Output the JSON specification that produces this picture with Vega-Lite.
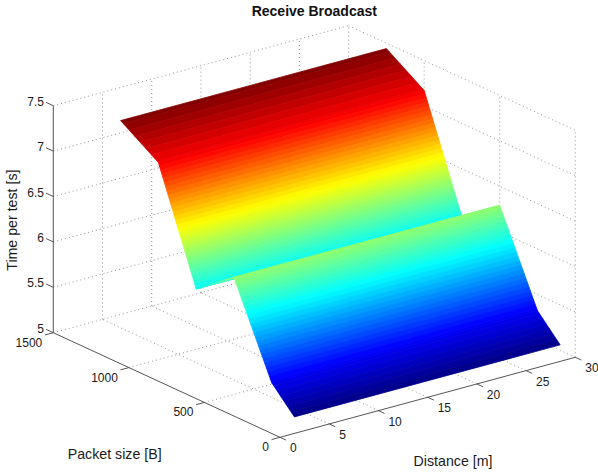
{"$schema":"https://vega.github.io/schema/vega-lite/v6.json","width":598,"height":472,"padding":0,"autosize":"none","background":"white","config":{"view":{"stroke":null}},
"datasets":{
"grid":[{"d":5,"p":0,"z":5,"d2":5,"p2":1500,"z2":5},{"d":10,"p":0,"z":5,"d2":10,"p2":1500,"z2":5},{"d":15,"p":0,"z":5,"d2":15,"p2":1500,"z2":5},{"d":20,"p":0,"z":5,"d2":20,"p2":1500,"z2":5},{"d":25,"p":0,"z":5,"d2":25,"p2":1500,"z2":5},{"d":30,"p":0,"z":5,"d2":30,"p2":1500,"z2":5},
{"d":0,"p":500,"z":5,"d2":30,"p2":500,"z2":5},{"d":0,"p":1000,"z":5,"d2":30,"p2":1000,"z2":5},{"d":0,"p":1500,"z":5,"d2":30,"p2":1500,"z2":5},
{"d":0,"p":1500,"z":5.5,"d2":30,"p2":1500,"z2":5.5},{"d":0,"p":1500,"z":6,"d2":30,"p2":1500,"z2":6},{"d":0,"p":1500,"z":6.5,"d2":30,"p2":1500,"z2":6.5},{"d":0,"p":1500,"z":7,"d2":30,"p2":1500,"z2":7},{"d":0,"p":1500,"z":7.5,"d2":30,"p2":1500,"z2":7.5},
{"d":30,"p":1500,"z":5.5,"d2":30,"p2":0,"z2":5.5},{"d":30,"p":1500,"z":6,"d2":30,"p2":0,"z2":6},{"d":30,"p":1500,"z":6.5,"d2":30,"p2":0,"z2":6.5},{"d":30,"p":1500,"z":7,"d2":30,"p2":0,"z2":7},{"d":30,"p":1500,"z":7.5,"d2":30,"p2":0,"z2":7.5},
{"d":5,"p":1500,"z":5,"d2":5,"p2":1500,"z2":7.5},{"d":10,"p":1500,"z":5,"d2":10,"p2":1500,"z2":7.5},{"d":15,"p":1500,"z":5,"d2":15,"p2":1500,"z2":7.5},{"d":20,"p":1500,"z":5,"d2":20,"p2":1500,"z2":7.5},{"d":25,"p":1500,"z":5,"d2":25,"p2":1500,"z2":7.5},{"d":30,"p":1500,"z":5,"d2":30,"p2":1500,"z2":7.5},
{"d":30,"p":1000,"z":5,"d2":30,"p2":1000,"z2":7.5},{"d":30,"p":500,"z":5,"d2":30,"p2":500,"z2":7.5},{"d":30,"p":0,"z":5,"d2":30,"p2":0,"z2":7.5}],
"axes":[{"d":0,"p":1500,"z":5,"d2":0,"p2":1500,"z2":7.5},{"d":0,"p":0,"z":5,"d2":0,"p2":1500,"z2":5},{"d":0,"p":0,"z":5,"d2":30,"p2":0,"z2":5},
{"d":0,"p":1500,"z":5,"d2":0,"p2":1548,"z2":5},{"d":0,"p":1500,"z":5.5,"d2":0,"p2":1548,"z2":5.5},{"d":0,"p":1500,"z":6,"d2":0,"p2":1548,"z2":6},{"d":0,"p":1500,"z":6.5,"d2":0,"p2":1548,"z2":6.5},{"d":0,"p":1500,"z":7,"d2":0,"p2":1548,"z2":7},{"d":0,"p":1500,"z":7.5,"d2":0,"p2":1548,"z2":7.5},
{"d":0,"p":0,"z":5,"d2":-0.85,"p2":0,"z2":5},{"d":0,"p":500,"z":5,"d2":-0.85,"p2":500,"z2":5},{"d":0,"p":1000,"z":5,"d2":-0.85,"p2":1000,"z2":5},{"d":0,"p":1500,"z":5,"d2":-0.85,"p2":1500,"z2":5},
{"d":0,"p":0,"z":5,"d2":0,"p2":-40,"z2":5},{"d":5,"p":0,"z":5,"d2":5,"p2":-40,"z2":5},{"d":10,"p":0,"z":5,"d2":10,"p2":-40,"z2":5},{"d":15,"p":0,"z":5,"d2":15,"p2":-40,"z2":5},{"d":20,"p":0,"z":5,"d2":20,"p2":-40,"z2":5},{"d":25,"p":0,"z":5,"d2":25,"p2":-40,"z2":5},{"d":30,"p":0,"z":5,"d2":30,"p2":-40,"z2":5}],
"bands":[{"p0":1250,"z0":7.44,"p1":1231,"z1":7.42},{"p0":1231,"z0":7.42,"p1":1194,"z1":7.38},{"p0":1194,"z0":7.38,"p1":1157,"z1":7.34},{"p0":1157,"z0":7.34,"p1":1120,"z1":7.3},{"p0":1120,"z0":7.3,"p1":1083,"z1":7.26},{"p0":1083,"z0":7.26,"p1":1046,"z1":7.22},{"p0":1046,"z0":7.22,"p1":1009,"z1":7.18},{"p0":1009,"z0":7.18,"p1":1000,"z1":7.17},
{"p0":1000,"z0":7.17,"p1":993.7,"z1":7.14},{"p0":993.7,"z0":7.14,"p1":985.4,"z1":7.1},{"p0":985.4,"z0":7.1,"p1":977,"z1":7.06},{"p0":977,"z0":7.06,"p1":968.7,"z1":7.02},{"p0":968.7,"z0":7.02,"p1":960.4,"z1":6.98},{"p0":960.4,"z0":6.98,"p1":952,"z1":6.94},{"p0":952,"z0":6.94,"p1":943.7,"z1":6.9},{"p0":943.7,"z0":6.9,"p1":935.4,"z1":6.86},{"p0":935.4,"z0":6.86,"p1":927,"z1":6.82},{"p0":927,"z0":6.82,"p1":918.7,"z1":6.78},{"p0":918.7,"z0":6.78,"p1":910.4,"z1":6.74},{"p0":910.4,"z0":6.74,"p1":902,"z1":6.7},{"p0":902,"z0":6.7,"p1":893.7,"z1":6.66},{"p0":893.7,"z0":6.66,"p1":885.4,"z1":6.62},{"p0":885.4,"z0":6.62,"p1":877,"z1":6.58},{"p0":877,"z0":6.58,"p1":868.7,"z1":6.54},{"p0":868.7,"z0":6.54,"p1":860.4,"z1":6.5},{"p0":860.4,"z0":6.5,"p1":852,"z1":6.46},{"p0":852,"z0":6.46,"p1":843.7,"z1":6.42},{"p0":843.7,"z0":6.42,"p1":835.4,"z1":6.38},{"p0":835.4,"z0":6.38,"p1":827,"z1":6.34},{"p0":827,"z0":6.34,"p1":818.7,"z1":6.3},{"p0":818.7,"z0":6.3,"p1":810.4,"z1":6.26},{"p0":810.4,"z0":6.26,"p1":802,"z1":6.22},{"p0":802,"z0":6.22,"p1":793.7,"z1":6.18},{"p0":793.7,"z0":6.18,"p1":785.4,"z1":6.14},{"p0":785.4,"z0":6.14,"p1":777,"z1":6.1},{"p0":777,"z0":6.1,"p1":768.7,"z1":6.06},{"p0":768.7,"z0":6.06,"p1":760.4,"z1":6.02},{"p0":760.4,"z0":6.02,"p1":752,"z1":5.98},{"p0":752,"z0":5.98,"p1":750,"z1":5.97},
{"p0":750,"z0":5.97,"p1":742,"z1":5.98},{"p0":742,"z0":5.98,"p1":711,"z1":6.02},{"p0":711,"z0":6.02,"p1":680,"z1":6.06},{"p0":680,"z0":6.06,"p1":648,"z1":6.1},{"p0":648,"z0":6.1,"p1":617,"z1":6.14},{"p0":617,"z0":6.14,"p1":586,"z1":6.18},{"p0":586,"z0":6.18,"p1":555,"z1":6.22},{"p0":555,"z0":6.22,"p1":523,"z1":6.26},{"p0":523,"z0":6.26,"p1":500,"z1":6.29},
{"p0":500,"z0":6.29,"p1":492.2,"z1":6.26},{"p0":492.2,"z0":6.26,"p1":481.9,"z1":6.22},{"p0":481.9,"z0":6.22,"p1":471.6,"z1":6.18},{"p0":471.6,"z0":6.18,"p1":461.3,"z1":6.14},{"p0":461.3,"z0":6.14,"p1":451,"z1":6.1},{"p0":451,"z0":6.1,"p1":440.7,"z1":6.06},{"p0":440.7,"z0":6.06,"p1":430.4,"z1":6.02},{"p0":430.4,"z0":6.02,"p1":420.1,"z1":5.98},{"p0":420.1,"z0":5.98,"p1":409.8,"z1":5.94},{"p0":409.8,"z0":5.94,"p1":399.5,"z1":5.9},{"p0":399.5,"z0":5.9,"p1":389.2,"z1":5.86},{"p0":389.2,"z0":5.86,"p1":378.9,"z1":5.82},{"p0":378.9,"z0":5.82,"p1":368.5,"z1":5.78},{"p0":368.5,"z0":5.78,"p1":358.2,"z1":5.74},{"p0":358.2,"z0":5.74,"p1":347.9,"z1":5.7},{"p0":347.9,"z0":5.7,"p1":337.6,"z1":5.66},{"p0":337.6,"z0":5.66,"p1":327.3,"z1":5.62},{"p0":327.3,"z0":5.62,"p1":317,"z1":5.58},{"p0":317,"z0":5.58,"p1":306.7,"z1":5.54},{"p0":306.7,"z0":5.54,"p1":296.4,"z1":5.5},{"p0":296.4,"z0":5.5,"p1":286.1,"z1":5.46},{"p0":286.1,"z0":5.46,"p1":275.8,"z1":5.42},{"p0":275.8,"z0":5.42,"p1":265.5,"z1":5.38},{"p0":265.5,"z0":5.38,"p1":255.2,"z1":5.34},{"p0":255.2,"z0":5.34,"p1":250,"z1":5.32},
{"p0":250,"z0":5.32,"p1":238,"z1":5.3},{"p0":238,"z0":5.3,"p1":215,"z1":5.26},{"p0":215,"z0":5.26,"p1":192,"z1":5.22},{"p0":192,"z0":5.22,"p1":169,"z1":5.18},{"p0":169,"z0":5.18,"p1":146,"z1":5.14},{"p0":146,"z0":5.14,"p1":123,"z1":5.1},{"p0":123,"z0":5.1,"p1":100,"z1":5.06}],
"zlabels":[{"t":"5","d":0,"p":1500,"z":5},{"t":"5.5","d":0,"p":1500,"z":5.5},{"t":"6","d":0,"p":1500,"z":6},{"t":"6.5","d":0,"p":1500,"z":6.5},{"t":"7","d":0,"p":1500,"z":7},{"t":"7.5","d":0,"p":1500,"z":7.5}],
"plabels":[{"t":"0","d":0,"p":0,"z":5},{"t":"500","d":0,"p":500,"z":5},{"t":"1000","d":0,"p":1000,"z":5},{"t":"1500","d":0,"p":1500,"z":5}],
"dlabels":[{"t":"0","d":0,"p":0,"z":5},{"t":"5","d":5,"p":0,"z":5},{"t":"10","d":10,"p":0,"z":5},{"t":"15","d":15,"p":0,"z":5},{"t":"20","d":20,"p":0,"z":5},{"t":"25","d":25,"p":0,"z":5},{"t":"30","d":30,"p":0,"z":5}]
},
"layer":[
{"data":{"name":"grid"},"transform":[{"calculate":"280+9.843*datum.d-0.15113*datum.p","as":"px"},{"calculate":"437.3-2.667*datum.d-0.06973*datum.p-90.8*(datum.z-5)","as":"py"},{"calculate":"280+9.843*datum.d2-0.15113*datum.p2","as":"qx"},{"calculate":"437.3-2.667*datum.d2-0.06973*datum.p2-90.8*(datum.z2-5)","as":"qy"}],
"mark":{"type":"rule","stroke":"#777777","strokeWidth":0.8,"strokeDash":[1,3]},
"encoding":{"x":{"field":"px","type":"quantitative","scale":{"domain":[0,598]},"axis":null},"y":{"field":"py","type":"quantitative","scale":{"domain":[472,0]},"axis":null},"x2":{"field":"qx"},"y2":{"field":"qy"}}},
{"data":{"name":"bands"},"transform":[{"fold":["p0","z0","z1","p1"],"as":["corner","v"]},{"calculate":"datum.corner=='p0'?0:datum.corner=='z0'?1:datum.corner=='z1'?2:3","as":"i"},{"calculate":"(datum.i==0||datum.i==3)?3:30","as":"d"},{"calculate":"datum.i<2?datum.p0:datum.p1","as":"p"},{"calculate":"datum.i<2?datum.z0:datum.z1","as":"z"},{"calculate":"(datum.z0+datum.z1)/2","as":"zm"},{"calculate":"280+9.843*datum.d-0.15113*datum.p","as":"px"},{"calculate":"437.3-2.667*datum.d-0.06973*datum.p-90.8*(datum.z-5)","as":"py"}],
"mark":{"type":"line","interpolate":"linear-closed","strokeWidth":0.8},
"encoding":{"x":{"field":"px","type":"quantitative","scale":{"domain":[0,598]},"axis":null},"y":{"field":"py","type":"quantitative","scale":{"domain":[472,0]},"axis":null},"order":{"field":"i","type":"quantitative"},"detail":{"field":"p0","type":"nominal"},
"fill":{"field":"zm","type":"quantitative","legend":null,"scale":{"domain":[5.05,5.349,5.946,6.544,7.141,7.44],"range":["#00007f","#0000ff","#00ffff","#ffff00","#ff0000","#7f0000"],"interpolate":"rgb"}},
"stroke":{"field":"zm","type":"quantitative","legend":null,"scale":{"domain":[5.05,5.349,5.946,6.544,7.141,7.44],"range":["#00007f","#0000ff","#00ffff","#ffff00","#ff0000","#7f0000"],"interpolate":"rgb"}}}},
{"data":{"name":"axes"},"transform":[{"calculate":"280+9.843*datum.d-0.15113*datum.p","as":"px"},{"calculate":"437.3-2.667*datum.d-0.06973*datum.p-90.8*(datum.z-5)","as":"py"},{"calculate":"280+9.843*datum.d2-0.15113*datum.p2","as":"qx"},{"calculate":"437.3-2.667*datum.d2-0.06973*datum.p2-90.8*(datum.z2-5)","as":"qy"}],
"mark":{"type":"rule","stroke":"#555555","strokeWidth":1},
"encoding":{"x":{"field":"px","type":"quantitative","scale":{"domain":[0,598]},"axis":null},"y":{"field":"py","type":"quantitative","scale":{"domain":[472,0]},"axis":null},"x2":{"field":"qx"},"y2":{"field":"qy"}}},
{"data":{"name":"zlabels"},"transform":[{"calculate":"280+9.843*datum.d-0.15113*datum.p","as":"px"},{"calculate":"437.3-2.667*datum.d-0.06973*datum.p-90.8*(datum.z-5)","as":"py"}],
"mark":{"type":"text","font":"Liberation Sans","fontSize":12,"align":"right","baseline":"middle","dx":-9.3,"dy":-4,"fill":"#1a1a1a"},
"encoding":{"x":{"field":"px","type":"quantitative","scale":{"domain":[0,598]},"axis":null},"y":{"field":"py","type":"quantitative","scale":{"domain":[472,0]},"axis":null},"text":{"field":"t","type":"nominal"}}},
{"data":{"name":"plabels"},"transform":[{"calculate":"280+9.843*datum.d-0.15113*datum.p","as":"px"},{"calculate":"437.3-2.667*datum.d-0.06973*datum.p-90.8*(datum.z-5)","as":"py"}],
"mark":{"type":"text","font":"Liberation Sans","fontSize":12,"align":"right","baseline":"middle","dx":-11,"dy":10,"fill":"#1a1a1a"},
"encoding":{"x":{"field":"px","type":"quantitative","scale":{"domain":[0,598]},"axis":null},"y":{"field":"py","type":"quantitative","scale":{"domain":[472,0]},"axis":null},"text":{"field":"t","type":"nominal"}}},
{"data":{"name":"dlabels"},"transform":[{"calculate":"280+9.843*datum.d-0.15113*datum.p","as":"px"},{"calculate":"437.3-2.667*datum.d-0.06973*datum.p-90.8*(datum.z-5)","as":"py"}],
"mark":{"type":"text","font":"Liberation Sans","fontSize":12,"align":"left","baseline":"middle","dx":10,"dy":11,"fill":"#1a1a1a"},
"encoding":{"x":{"field":"px","type":"quantitative","scale":{"domain":[0,598]},"axis":null},"y":{"field":"py","type":"quantitative","scale":{"domain":[472,0]},"axis":null},"text":{"field":"t","type":"nominal"}}},
{"data":{"values":[{"t":"Packet size [B]","d":0,"p":1094,"z":3.96},{"t":"Distance [m]","d":17.58,"p":0,"z":4.215}]},"transform":[{"calculate":"280+9.843*datum.d-0.15113*datum.p","as":"px"},{"calculate":"437.3-2.667*datum.d-0.06973*datum.p-90.8*(datum.z-5)","as":"py"}],
"mark":{"type":"text","font":"Liberation Sans","fontSize":14.2,"align":"center","baseline":"middle","fill":"#1a1a1a"},
"encoding":{"x":{"field":"px","type":"quantitative","scale":{"domain":[0,598]},"axis":null},"y":{"field":"py","type":"quantitative","scale":{"domain":[472,0]},"axis":null},"text":{"field":"t","type":"nominal"}}},
{"data":{"values":[{"t":"Time per test [s]","d":-4.1,"p":1500,"z":6.36}]},"transform":[{"calculate":"280+9.843*datum.d-0.15113*datum.p","as":"px"},{"calculate":"437.3-2.667*datum.d-0.06973*datum.p-90.8*(datum.z-5)","as":"py"}],
"mark":{"type":"text","font":"Liberation Sans","fontSize":14.2,"align":"center","baseline":"middle","angle":270,"fill":"#1a1a1a"},
"encoding":{"x":{"field":"px","type":"quantitative","scale":{"domain":[0,598]},"axis":null},"y":{"field":"py","type":"quantitative","scale":{"domain":[472,0]},"axis":null},"text":{"field":"t","type":"nominal"}}},
{"data":{"values":[{"t":"Receive Broadcast","d":15,"p":750,"z":8.67}]},"transform":[{"calculate":"280+9.843*datum.d-0.15113*datum.p","as":"px"},{"calculate":"437.3-2.667*datum.d-0.06973*datum.p-90.8*(datum.z-5)","as":"py"}],
"mark":{"type":"text","font":"Liberation Sans","fontSize":14,"fontWeight":"bold","align":"center","baseline":"middle","fill":"#111111"},
"encoding":{"x":{"field":"px","type":"quantitative","scale":{"domain":[0,598]},"axis":null},"y":{"field":"py","type":"quantitative","scale":{"domain":[472,0]},"axis":null},"text":{"field":"t","type":"nominal"}}}
]}
